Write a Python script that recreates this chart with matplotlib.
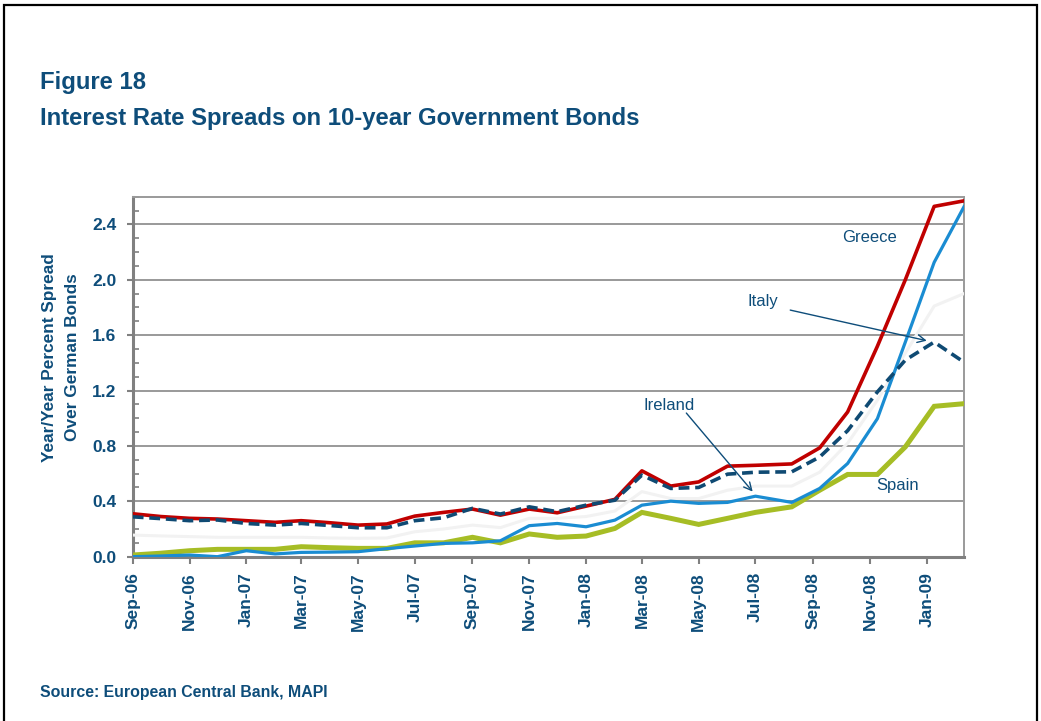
import matplotlib
matplotlib.use("Agg")
import matplotlib.pyplot as plt
import matplotlib.dates as mdates
from matplotlib.patches import Rectangle
import numpy as np
import pandas as pd

plt.rcParams['font.family'] = ['Liberation Sans', 'DejaVu Sans']

NAVY = '#0E4D7A'

# observation dates (monthly, the late-2008 readings fall a few days into the month)
dates = ['2006-09-01', '2006-10-01', '2006-11-01', '2006-12-01',
         '2007-01-01', '2007-02-01', '2007-03-01', '2007-04-01', '2007-05-01', '2007-06-01',
         '2007-07-01', '2007-08-01', '2007-09-01', '2007-10-01', '2007-11-01', '2007-12-01',
         '2008-01-01', '2008-02-01', '2008-03-01', '2008-04-01', '2008-05-01', '2008-06-01',
         '2008-07-01', '2008-08-09', '2008-09-08', '2008-10-08', '2008-11-09', '2008-12-09',
         '2009-01-09', '2009-02-10']

greece = [0.31, 0.29, 0.277, 0.272, 0.26, 0.248, 0.26, 0.245, 0.228, 0.236,
          0.293, 0.32, 0.344, 0.30, 0.344, 0.317, 0.365, 0.414, 0.62, 0.51,
          0.54, 0.654, 0.66, 0.67, 0.786, 1.045, 1.52, 2.0, 2.53, 2.57]
italy = [0.288, 0.275, 0.26, 0.265, 0.24, 0.228, 0.24, 0.225, 0.209, 0.209,
         0.26, 0.281, 0.349, 0.308, 0.36, 0.325, 0.372, 0.408, 0.589, 0.493,
         0.50, 0.596, 0.61, 0.613, 0.72, 0.91, 1.19, 1.42, 1.55, 1.405]
ireland = [0.0, 0.005, 0.012, 0.0, 0.043, 0.02, 0.031, 0.033, 0.036, 0.058,
           0.077, 0.096, 0.10, 0.115, 0.224, 0.24, 0.216, 0.264, 0.372, 0.401,
           0.385, 0.392, 0.437, 0.392, 0.493, 0.673, 0.997, 1.55, 2.126, 2.527]
spain = [0.012, 0.025, 0.043, 0.053, 0.053, 0.053, 0.072, 0.065, 0.06, 0.06,
         0.1, 0.1, 0.14, 0.1, 0.164, 0.14, 0.149, 0.204, 0.32, 0.277,
         0.233, 0.277, 0.32, 0.36, 0.48, 0.594, 0.594, 0.793, 1.086, 1.105]
portugal = [0.156, 0.15, 0.145, 0.14, 0.14, 0.14, 0.14, 0.135, 0.133, 0.135,
            0.18, 0.2, 0.228, 0.21, 0.277, 0.277, 0.29, 0.33, 0.47, 0.42,
            0.42, 0.48, 0.51, 0.51, 0.61, 0.82, 1.13, 1.47, 1.81, 1.9]

x = pd.to_datetime(dates)

fig = plt.figure(figsize=(10.41, 7.21), dpi=100)
fig.patches.append(Rectangle((4 / 1041, -0.05), 1033 / 1041, 1.05 - 5 / 721,
                             transform=fig.transFigure, fill=False,
                             edgecolor='black', linewidth=1.6))

ax = fig.add_axes([0.1275, 0.2279, 0.7985, 0.4993])

# series
ax.plot(x, portugal, color='#F2F2F2', lw=2.2, zorder=3)
ax.plot(x, spain, color='#A6BD25', lw=3.6, zorder=4, solid_joinstyle='miter')
ax.plot(x, ireland, color='#1A8CD2', lw=2.3, zorder=5)
ax.plot(x, greece, color='#C00000', lw=2.6, zorder=6)
ax.plot(x, italy, color='#0F4A73', lw=2.6, ls=(0, (3.0, 1.6)), zorder=7)

ax.set_ylim(0, 2.6)
ax.set_xlim(x[0], x[-1])
ax.set_yticks(np.arange(0, 2.41, 0.4))
ax.set_yticks(np.arange(0, 2.61, 0.1), minor=True)
ax.yaxis.set_major_formatter(matplotlib.ticker.FormatStrFormatter('%.1f'))
ax.grid(axis='y', which='major', color='#999999', lw=1.4, zorder=1)

ax.xaxis.set_major_locator(mdates.MonthLocator(bymonth=[1, 3, 5, 7, 9, 11]))
ax.xaxis.set_major_formatter(mdates.DateFormatter('%b-%y'))

for lab in ax.get_xticklabels() + ax.get_yticklabels():
    lab.set_fontweight('bold')
    lab.set_color(NAVY)
    lab.set_fontsize(12.5)
plt.setp(ax.get_xticklabels(), rotation=90)

ax.tick_params(axis='x', which='major', direction='out', length=5, width=1.5,
               color='#808080', pad=6)
ax.tick_params(axis='y', which='major', direction='out', length=4, width=1.5,
               color='#808080', pad=7.9)
ax.tick_params(axis='y', which='minor', direction='in', length=4, width=1.2,
               color='#808080')

for side in ['left', 'bottom']:
    ax.spines[side].set_color('#808080')
    ax.spines[side].set_linewidth(2.2)
for side in ['top', 'right']:
    ax.spines[side].set_color('#9a9a9a')
    ax.spines[side].set_linewidth(1.4)

# labels and arrows
ax.text(0.854, 0.888, 'Greece', transform=ax.transAxes, fontsize=12,
        color=NAVY, va='center', ha='left')
ax.text(0.740, 0.708, 'Italy', transform=ax.transAxes, fontsize=12,
        color=NAVY, va='center', ha='left')
ax.text(0.615, 0.419, 'Ireland', transform=ax.transAxes, fontsize=12,
        color=NAVY, va='center', ha='left')
ax.text(0.895, 0.199, 'Spain', transform=ax.transAxes, fontsize=12,
        color=NAVY, va='center', ha='left')

arrow = dict(arrowstyle='->', color=NAVY, lw=1.0, shrinkA=0, shrinkB=0,
             mutation_scale=14)
ax.annotate('', xy=(pd.Timestamp('2009-01-01'), 1.56), xycoords='data',
            xytext=(0.791, 0.685), textcoords='axes fraction', arrowprops=arrow,
            zorder=8)
ax.annotate('', xy=(pd.Timestamp('2008-06-28'), 0.47), xycoords='data',
            xytext=(0.666, 0.399), textcoords='axes fraction', arrowprops=arrow,
            zorder=8)

fig.text(0.0585, 0.504, 'Year/Year Percent Spread\nOver German Bonds',
         rotation=90, ha='center', va='center', fontsize=12.4, fontweight='bold',
         color=NAVY, linespacing=1.65, multialignment='center')

fig.text(40 / 1041, 1 - 89 / 721, 'Figure 18', fontsize=17.2, fontweight='bold',
         color=NAVY, va='baseline', ha='left')
fig.text(40 / 1041, 1 - 124.5 / 721,
         'Interest Rate Spreads on 10-year Government Bonds', fontsize=17.2,
         fontweight='bold', color=NAVY, va='baseline', ha='left')
fig.text(40 / 1041, 1 - 697 / 721, 'Source: European Central Bank, MAPI',
         fontsize=11.4, fontweight='bold', color=NAVY, va='baseline', ha='left')

fig.savefig('out.png', dpi=100)
